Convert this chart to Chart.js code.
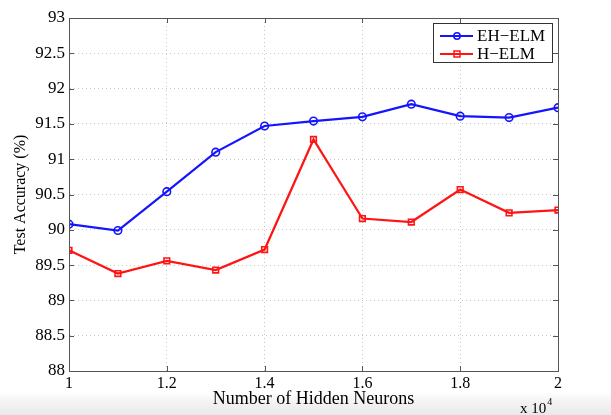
<!DOCTYPE html>
<html>
<head>
<meta charset="utf-8">
<script src="https://cdn.jsdelivr.net/npm/chart.js@4/dist/chart.umd.min.js"></script>
<style>
  html, body { margin: 0; padding: 0; }
  body { width: 611px; height: 415px; overflow: hidden;
    background: linear-gradient(to bottom, #ffffff 0px, #ffffff 392px, #f3f3f3 402px, #e9e9e9 415px); }
  #wrap { position: relative; width: 611px; height: 415px; }
</style>
</head>
<body>
<div id="wrap"><canvas id="c" width="611" height="415"></canvas></div>
<script>
// ---- data ----
const hiddenNeurons = [1.0, 1.1, 1.2, 1.3, 1.4, 1.5, 1.6, 1.7, 1.8, 1.9, 2.0]; // x 10^4
const ehElm = [90.08, 89.99, 90.54, 91.10, 91.47, 91.54, 91.60, 91.78, 91.61, 91.59, 91.73];
const hElm  = [89.71, 89.38, 89.56, 89.43, 89.72, 91.28, 90.16, 90.11, 90.57, 90.24, 90.28];
const seriesNames = ['EH\u2212ELM', 'H\u2212ELM'];
const xTitle = 'Number of Hidden Neurons';
const yTitle = 'Test Accuracy (%)';
const xMultiplier = ['x 10', '4'];

const FONT = '"Liberation Serif", "Times New Roman", serif';
const BLUE = 'rgb(20,20,255)';
const RED = 'rgb(255,20,20)';

function pts(ys) { return hiddenNeurons.map((x, i) => ({ x: x, y: ys[i] })); }

const framePlugin = {
  id: 'frame',
  afterDraw(chart) {
    const ctx = chart.ctx, a = chart.chartArea;
    const xs = chart.scales.x, ys = chart.scales.y;
    ctx.save();
    ctx.strokeStyle = '#555';
    ctx.lineWidth = 1;
    ctx.strokeRect(Math.round(a.left) + 0.5, Math.round(a.top) + 0.5,
      Math.round(a.right - a.left), Math.round(a.bottom - a.top));
    // inner tick marks
    ctx.beginPath();
    xs.ticks.forEach(t => {
      const px = Math.round(xs.getPixelForValue(t.value)) + 0.5;
      ctx.moveTo(px, a.bottom); ctx.lineTo(px, a.bottom - 5);
      ctx.moveTo(px, a.top); ctx.lineTo(px, a.top + 5);
    });
    ys.ticks.forEach(t => {
      const py = Math.round(ys.getPixelForValue(t.value)) + 0.5;
      ctx.moveTo(a.left, py); ctx.lineTo(a.left + 5, py);
      ctx.moveTo(a.right, py); ctx.lineTo(a.right - 5, py);
    });
    ctx.stroke();

    // legend box
    const lx = 433, ly = 23, lw = 119, lh = 39;
    ctx.fillStyle = '#fff';
    ctx.fillRect(lx, ly, lw, lh);
    ctx.strokeStyle = '#333';
    ctx.lineWidth = 1;
    ctx.strokeRect(lx + 0.5, ly + 0.5, lw, lh);
    const rows = [36, 54];
    chart.data.datasets.forEach((ds, i) => {
      const y = rows[i];
      ctx.strokeStyle = ds.borderColor;
      ctx.lineWidth = 2;
      ctx.beginPath(); ctx.moveTo(440, y); ctx.lineTo(473, y); ctx.stroke();
      ctx.lineWidth = 1.5;
      if (ds.pointStyle === 'rect') {
        ctx.strokeRect(454, y - 3, 6, 6);
      } else {
        ctx.beginPath(); ctx.arc(457, y, 3.2, 0, Math.PI * 2); ctx.stroke();
      }
      ctx.fillStyle = '#000';
      ctx.font = '17px ' + FONT;
      ctx.textBaseline = 'middle';
      ctx.textAlign = 'left';
      ctx.fillText(ds.label, 477, y + 1);
    });

    // x title
    ctx.fillStyle = '#000';
    ctx.font = '18px ' + FONT;
    ctx.textAlign = 'center';
    ctx.textBaseline = 'middle';
    ctx.fillText(xTitle, (a.left + a.right) / 2, 399);
    // y title
    ctx.save();
    ctx.translate(21, (a.top + a.bottom) / 2);
    ctx.rotate(-Math.PI / 2);
    ctx.font = '16px ' + FONT;
    ctx.fillText(yTitle, 0, 0);
    ctx.restore();
    // multiplier
    ctx.textAlign = 'left';
    ctx.textBaseline = 'alphabetic';
    ctx.font = '15px ' + FONT;
    ctx.fillText(xMultiplier[0], 520, 413);
    const w = ctx.measureText(xMultiplier[0]).width;
    ctx.font = '10px ' + FONT;
    ctx.fillText(xMultiplier[1], 520 + w + 1, 405);
    ctx.restore();
  }
};

new Chart(document.getElementById('c'), {
  type: 'line',
  data: {
    datasets: [
      { label: seriesNames[0], data: pts(ehElm), borderColor: BLUE, backgroundColor: 'rgba(0,0,0,0)',
        borderWidth: 2.2, pointStyle: 'circle', pointRadius: 3.8, pointBorderWidth: 1.6,
        pointBackgroundColor: 'rgba(255,255,255,0)', pointBorderColor: BLUE, tension: 0 },
      { label: seriesNames[1], data: pts(hElm), borderColor: RED, backgroundColor: 'rgba(0,0,0,0)',
        borderWidth: 2.2, pointStyle: 'rect', pointRadius: 4, pointBorderWidth: 1.6,
        pointBackgroundColor: 'rgba(255,255,255,0)', pointBorderColor: RED, tension: 0 }
    ]
  },
  options: {
    responsive: false,
    animation: false,
    events: [],
    layout: { padding: { left: 0, right: 53, top: 18, bottom: 0 } },
    plugins: { legend: { display: false }, tooltip: { enabled: false } },
    scales: {
      x: {
        type: 'linear', min: 1, max: 2,
        afterFit(s) { s.height = 44; },
        ticks: { stepSize: 0.2, color: '#000', font: { family: FONT, size: 16 }, padding: 3, maxRotation: 0,
                 callback: v => String(Math.round(v * 10) / 10) },
        grid: { color: '#c8c8c8', lineWidth: 1, drawTicks: false },
        border: { display: true, color: '#555', dash: [1, 3] }
      },
      y: {
        min: 88, max: 93,
        afterFit(s) { s.width = 69; },
        ticks: { stepSize: 0.5, color: '#000', font: { family: FONT, size: 17 }, padding: 4,
                 callback: v => String(v) },
        grid: { color: '#c8c8c8', lineWidth: 1, drawTicks: false },
        border: { display: true, color: '#555', dash: [1, 3] }
      }
    }
  },
  plugins: [framePlugin]
});
</script>
</body>
</html>
